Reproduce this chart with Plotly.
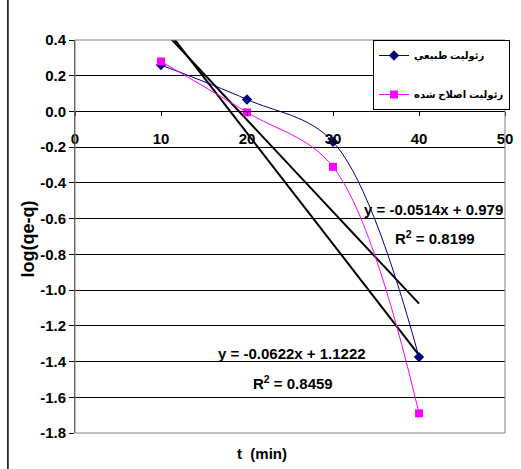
import numpy as np
import plotly.graph_objects as go

# ---- data ----
t_min = [10, 20, 30, 40]
natural = [0.26, 0.067, -0.17, -1.375]
modified = [0.28, -0.005, -0.31, -1.69]
series_names = ["زئوليت طبيعي", "زئوليت اصلاح شده"]

x_tickvals = [0, 10, 20, 30, 40, 50]
x_ticktext = ["0", "10", "20", "30", "40", "50"]
y_tickvals = [0.4, 0.2, 0.0, -0.2, -0.4, -0.6, -0.8, -1.0, -1.2, -1.4, -1.6, -1.8]
y_ticktext = ["0.4", "0.2", "0.0", "-0.2", "-0.4", "-0.6", "-0.8", "-1.0", "-1.2", "-1.4", "-1.6", "-1.8"]

eq_natural = "y = -0.0514x + 0.979"
r2_natural = "0.8199"
eq_modified = "y = -0.0622x + 1.1222"
r2_modified = "0.8459"

FONT = "Arial, 'Liberation Sans', 'DejaVu Sans', sans-serif"

fig = go.Figure()

# linear trendlines (fitted from the data)
trend_x = [min(t_min), max(t_min)]
for ys in (natural, modified):
    k, b = np.polyfit(t_min, ys, 1)
    fig.add_trace(go.Scatter(
        x=trend_x, y=[k * v + b for v in trend_x], mode="lines",
        line=dict(color="black", width=2), showlegend=False, hoverinfo="skip"))

fig.add_trace(go.Scatter(
    x=t_min, y=natural, name=series_names[0], legendgroup="a",
    mode="lines+markers", line=dict(color="#000080", width=1, shape="spline", smoothing=1),
    marker=dict(symbol="diamond", size=8, color="#000080")))
fig.add_trace(go.Scatter(
    x=t_min, y=modified, name=series_names[1], legendgroup="b",
    mode="lines+markers", line=dict(color="#FF00FF", width=1, shape="spline", smoothing=1),
    marker=dict(symbol="square", size=8, color="#FF00FF")))

tick_font = dict(family=FONT, size=15, color="black", weight="bold")

fig.update_layout(
    width=521, height=469,
    margin=dict(l=75, r=16, t=39.5, b=36, autoexpand=False),
    paper_bgcolor="white", plot_bgcolor="white",
    font=dict(family=FONT, color="black"),
    showlegend=True,
    legend=dict(x=0.693, y=1.0, xanchor="left", yanchor="top",
                bgcolor="white", bordercolor="black", borderwidth=1,
                font=dict(family=FONT, size=10, color="black", weight="bold"),
                itemwidth=30, tracegroupgap=20, traceorder="grouped"),
    xaxis=dict(range=[0, 50], tickvals=x_tickvals, ticktext=x_ticktext,
               anchor="free", position=1.8 / 2.2,
               showline=True, linecolor="black", linewidth=1,
               ticks="outside", ticklen=4, tickcolor="black",
               showgrid=False, zeroline=False, tickfont=tick_font,
               ticklabelstandoff=10, automargin=False),
    yaxis=dict(range=[-1.8, 0.4], tickvals=y_tickvals, ticktext=y_ticktext,
               showline=True, linecolor="#404040", linewidth=1,
               ticks="outside", ticklen=5, tickcolor="black",
               showgrid=True, gridcolor="black", gridwidth=1,
               zeroline=False, tickfont=tick_font, automargin=False),
)

# plot-area border (gray) and outer chart frame line
fig.add_shape(type="rect", xref="paper", yref="paper", x0=0, x1=1, y0=0, y1=1,
              line=dict(color="#808080", width=1), layer="above")
fig.add_shape(type="line", xref="paper", yref="paper", x0=-0.156, x1=-0.156,
              y0=-0.1, y1=1.11, line=dict(color="black", width=1.5))

ann_font = dict(family=FONT, size=15, color="black", weight="bold")
fig.add_annotation(x=41.74, y=-0.548, xref="x", yref="y", text=eq_natural,
                   showarrow=False, font=ann_font)
fig.add_annotation(x=41.86, y=-0.704, xref="x", yref="y", text="R<sup>2</sup> = " + r2_natural,
                   showarrow=False, font=ann_font)
fig.add_annotation(x=25.23, y=-1.353, xref="x", yref="y", text=eq_modified,
                   showarrow=False, font=ann_font)
fig.add_annotation(x=25.35, y=-1.52, xref="x", yref="y", text="R<sup>2</sup> = " + r2_modified,
                   showarrow=False, font=ann_font)

# axis titles
fig.add_annotation(x=-0.109, y=0.493, xref="paper", yref="paper", text="log(qe-q)",
                   textangle=-90, showarrow=False, xanchor="center", yanchor="middle",
                   font=dict(family=FONT, size=18, color="black", weight="bold"))
fig.add_annotation(x=0.435, y=-0.051, xref="paper", yref="paper", text="t\u00a0\u00a0(min)",
                   showarrow=False, xanchor="center", yanchor="middle",
                   font=dict(family=FONT, size=15, color="black", weight="bold"))

fig.write_html("out.html", config={"displayModeBar": False},
               post_script="document.body.style.margin='0';document.body.style.overflow='hidden';")
